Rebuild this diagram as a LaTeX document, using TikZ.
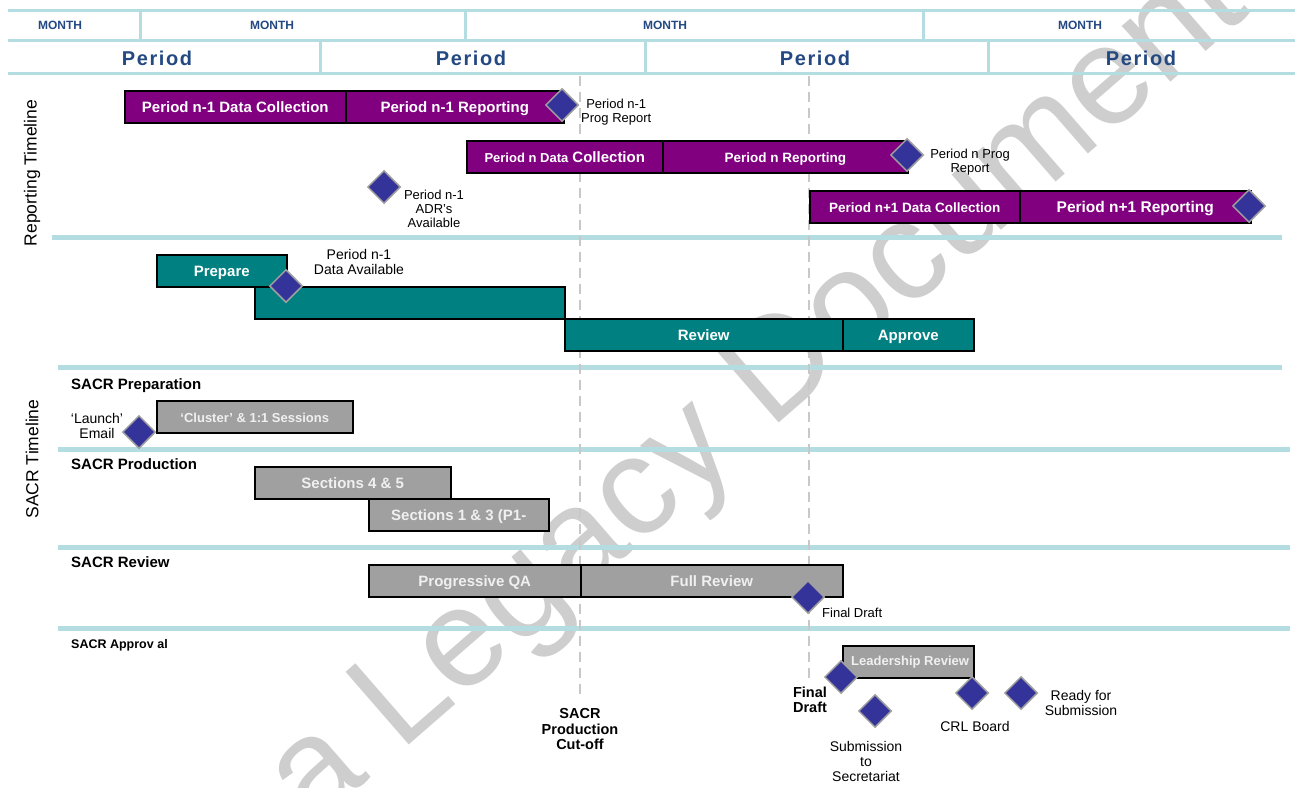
\documentclass[tikz,border=0pt]{standalone}
\usepackage{fontspec}
\setmainfont{Liberation Sans}
\usetikzlibrary{shapes.geometric}

\definecolor{rulecol}{RGB}{180,221,225}
\definecolor{headblue}{RGB}{35,72,130}
\definecolor{plum}{RGB}{128,0,128}
\definecolor{tealfill}{RGB}{0,128,128}
\definecolor{greyfill}{RGB}{160,160,160}
\definecolor{gemfill}{RGB}{51,51,153}
\definecolor{gemedge}{RGB}{160,160,160}
\definecolor{cutcol}{RGB}{200,200,200}
\definecolor{markcol}{RGB}{206,206,206}

\newcommand{\fs}[1]{\fontsize{#1}{#1}\selectfont}

\tikzset{
  headrule/.style={draw=rulecol, line width=3pt},
  secrule/.style={draw=rulecol, line width=5pt},
  cutoff/.style={draw=cutcol, line width=2pt, dash pattern=on 10pt off 6pt},
  bar/.style={draw=black, line width=1.5pt, minimum height=32pt, inner sep=0pt,
    text height=11.5pt, text depth=0pt,
    anchor=north west, text=white, font=\bfseries\fs{15}},
  purplebar/.style={bar, fill=plum},
  tealbar/.style={bar, fill=tealfill},
  greybar/.style={bar, fill=greyfill, text=white!94!black},
  milestone/.style={diamond, fill=gemfill, draw=gemedge, line width=1.5pt,
    minimum width=33pt, minimum height=33pt, inner sep=0pt},
  note/.style={font=\fs{13}, align=center, inner sep=0pt},
  boldnote/.style={font=\bfseries\fs{14.5}, align=center, inner sep=0pt},
  heading/.style={font=\bfseries\fs{15}, anchor=west, inner sep=0pt},
  monthlbl/.style={font=\bfseries\fs{12}, text=headblue, inner sep=0pt},
  periodlbl/.style={font=\bfseries\fs{20}\addfontfeatures{LetterSpace=8}, text=headblue, inner sep=0pt},
  sidelbl/.style={font=\fs{17.5}, rotate=90, inner sep=0pt},
}

\begin{document}
\begin{tikzpicture}[x=1pt, y=-1pt]
\useasboundingbox (0,0) rectangle (1295,787);
\clip (0,0) rectangle (1295,787);

% watermark behind everything
\node[text=markcol, font=\fs{140}, rotate=41, inner sep=0pt] (watermark) at (760,395) {a Legacy Document};

% header grid
\draw[headrule] (8,10) -- (1295,10);
\draw[headrule] (8,40) -- (1295,40);
\draw[headrule] (8,73) -- (1295,73);
\foreach \x in {140,465,923} \draw[headrule] (\x,9) -- (\x,40);
\foreach \x in {320,645,988} \draw[headrule] (\x,40) -- (\x,73);

\node[monthlbl] (mon1) at (60,25) {MONTH};
\node[monthlbl] (mon2) at (272,25) {MONTH};
\node[monthlbl] (mon3) at (665,25) {MONTH};
\node[monthlbl] (mon4) at (1080,25) {MONTH};
\node[periodlbl] (per1) at (157,58) {Period};
\node[periodlbl] (per2) at (471,58) {Period};
\node[periodlbl] (per3) at (815,58) {Period};
\node[periodlbl] (per4) at (1141,58) {Period};

% section rules
\draw[secrule] (52,237) -- (1282,237);
\draw[secrule] (58,367) -- (1282,367);
\draw[secrule] (58,449) -- (1290,449);
\draw[secrule] (58,547) -- (1290,547);
\draw[secrule] (58,628) -- (1290,628);

% dashed cut-off markers
\coordinate (cutA top) at (580,76);
\coordinate (cutA bot) at (580,700);
\coordinate (cutB top) at (809,76);
\coordinate (cutB bot) at (809,682);
\draw[cutoff] (cutA top) -- (cutA bot);
\draw[cutoff] (cutB top) -- (cutB bot);

% side titles
\node[sidelbl] (reptitle) at (32,173) {Reporting Timeline};
\node[sidelbl] (sacrtitle) at (32,459) {SACR Timeline};

% reporting timeline
\node[purplebar, minimum width=221pt] (pm1dc) at (124,90) {Period n-1 Data Collection};
\node[purplebar, minimum width=218pt] (pm1rep) at (345,90) {Period n-1 Reporting};
\node[purplebar, minimum width=196pt] (pndc) at (466,140) {{\fs{13}Period n Data} Collection};
\node[purplebar, minimum width=245pt, font=\bfseries\fs{13.5}] (pnrep) at (662,140) {Period n Reporting};
\node[purplebar, minimum width=210pt, font=\bfseries\fs{13.5}] (pp1dc) at (809,190) {Period n+1 Data Collection};
\node[purplebar, minimum width=231pt, font=\bfseries\fs{15.5}] (pp1rep) at (1019,190) {Period n+1 Reporting};

\node[milestone] (msprog1) at (562,105) {};
\node[milestone] (msprog) at (907,155) {};
\node[milestone] (msadr) at (384,187) {};
\node[milestone] (msprog2) at (1249,206) {};

\node[note, anchor=west] (lbprog1) at (581,112) {Period n-1\\[1pt]Prog Report};
\node[note] (lbprog) at (970,162) {Period n Prog\\[1pt]Report};
\node[note] (lbadr) at (434,209) {Period n-1\\[1pt]ADR’s\\[1pt]Available};

% preparation / review / approval bars
\node[tealbar, minimum width=130pt] (prepare) at (156,254) {Prepare};
\node[tealbar, minimum width=310pt] (collect) at (254,286) {};
\node[tealbar, minimum width=278pt] (review) at (564,318) {Review};
\node[tealbar, minimum width=131pt] (approve) at (842,318) {Approve};
\node[milestone] (msdata) at (286,286) {};
\node[note, font=\fs{14}] (lbdata) at (359,262) {Period n-1\\[1pt]Data Available};

% SACR preparation
\node[heading] (hprep) at (71,386) {SACR Preparation};
\node[greybar, minimum width=196pt, font=\bfseries\fs{13}] (cluster) at (156,400) {‘Cluster’ \& 1:1 Sessions};
\node[milestone] (mslaunch) at (139,432) {};
\node[note, font=\fs{14}] (lblaunch) at (97,426) {‘Launch’\\[1pt]Email};

% SACR production
\node[heading] (hprod) at (71,464) {SACR Production};
\node[greybar, minimum width=196pt] (sec45) at (254,466) {Sections 4 \& 5};
\node[greybar, minimum width=180pt] (sec13) at (368,498) {Sections 1 \& 3 (P1-};

% SACR review
\node[heading] (hrev) at (71,562) {SACR Review};
\node[greybar, minimum width=212pt] (progqa) at (368,564) {Progressive QA};
\node[greybar, minimum width=262pt] (fullrev) at (580,564) {Full Review};
\node[milestone] (msfinal) at (808,597) {};
\node[note, anchor=west] (lbfinal) at (822,613) {Final Draft};

% SACR approval
\node[heading, font=\bfseries\fs{12.5}] (happ) at (71,645) {SACR Approv al};
\node[greybar, minimum width=131pt] (leader) at (842,645) {};
\node[anchor=west, inner sep=0pt, text=white!94!black, font=\bfseries\fs{13}] (lbleader) at ([xshift=9pt]leader.west) {Leadership Review};
\node[milestone] (msfinal2) at (841,677) {};
\node[milestone] (mssub) at (875,711) {};
\node[milestone] (mscrl) at (972,693) {};
\node[milestone] (msready) at (1021,693) {};
\node[boldnote] (lbfinal2) at (810,700) {Final\\Draft};
\node[note, font=\fs{14}] (lbsub) at (866,761) {Submission\\[1pt]to\\[1pt]Secretariat};
\node[note, font=\fs{14}] (lbcrl) at (975,726) {CRL Board};
\node[note, font=\fs{14}] (lbready) at (1081,703) {Ready for\\[1pt]Submission};
\node[boldnote] (lbcut) at (580,729) {SACR\\[1pt]Production\\[1pt]Cut-off};

\end{tikzpicture}
\end{document}
